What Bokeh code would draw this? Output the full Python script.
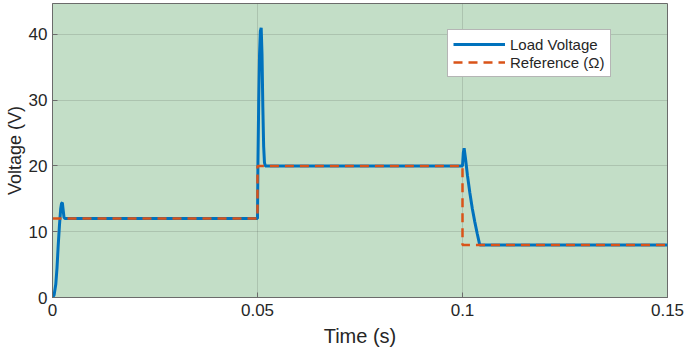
from bokeh.plotting import figure
from bokeh.models import Range1d, Legend, LegendItem, FixedTicker
from bokeh.embed import file_html
from bokeh.resources import INLINE

# Load voltage (s, V)
load_t = [0.0, 0.0004, 0.0008, 0.0011, 0.0014, 0.0017, 0.0020, 0.0022, 0.0024, 0.0026,
          0.0028, 0.0030, 0.0500, 0.0501, 0.0503, 0.0505, 0.0507, 0.0509, 0.0511,
          0.0513, 0.0515, 0.0517, 0.0519, 0.1000, 0.1002, 0.1004, 0.1007, 0.1012,
          0.1018, 0.1024, 0.1030, 0.1036, 0.1042, 0.1500]
load_v = [0.0, 0.4, 2.0, 4.5, 8.0, 11.0, 13.5, 14.3, 14.4, 13.3,
          12.2, 12.0, 12.0, 20.0, 30.0, 37.0, 40.5, 41.0, 37.0,
          29.0, 23.0, 20.5, 20.0, 20.0, 22.0, 22.7, 21.3, 18.6,
          15.9, 13.5, 11.5, 9.7, 8.0, 8.0]

# Reference voltage (s, V)
ref_t = [0.0, 0.0500, 0.0500, 0.1000, 0.1000, 0.1500]
ref_v = [12.0, 12.0, 20.0, 20.0, 8.0, 8.0]

x_ticks = [0, 0.05, 0.1, 0.15]
x_labels = {0: "0", 0.05: "0.05", 0.1: "0.1", 0.15: "0.15"}
y_ticks = [0, 10, 20, 30, 40]

FONT = "Liberation Sans"
TXT = "#262626"

p = figure(width=684, height=351, output_backend="svg", toolbar_location=None,
           x_range=Range1d(0, 0.15), y_range=Range1d(0, 44.7),
           min_border_left=52, min_border_right=17, min_border_top=3, min_border_bottom=54)

p.background_fill_color = "#c3dec7"
p.border_fill_color = "white"
p.outline_line_color = "#6b6b6b"
p.outline_line_width = 1

l1 = p.line(load_t, load_v, line_color="#0072BD", line_width=3)
l2 = p.line(ref_t, ref_v, line_color="#D95319", line_width=2.5, line_dash="9 6")

for ax in (p.xaxis[0], p.yaxis[0]):
    ax.axis_line_color = "#6b6b6b"
    ax.major_tick_line_color = "#6b6b6b"
    ax.major_tick_in = 5
    ax.major_tick_out = 0
    ax.minor_tick_line_color = None
    ax.major_label_text_font = FONT
    ax.major_label_text_font_size = "17px"
    ax.major_label_text_color = TXT
    ax.axis_label_text_font = FONT
    ax.axis_label_text_font_style = "normal"
    ax.axis_label_text_color = TXT

p.xaxis.ticker = FixedTicker(ticks=x_ticks)
p.xaxis.major_label_overrides = x_labels
p.yaxis.ticker = FixedTicker(ticks=y_ticks)
p.xaxis.axis_label = "Time (s)"
p.yaxis.axis_label = "Voltage (V)"
p.xaxis.axis_label_text_font_size = "20px"
p.yaxis.axis_label_text_font_size = "18px"
p.xaxis.major_label_standoff = 6
p.xaxis.axis_label_standoff = 6
p.yaxis.major_label_standoff = 5
p.yaxis.axis_label_standoff = 1

p.grid.grid_line_color = "#262626"
p.grid.grid_line_alpha = 0.15

legend = Legend(items=[LegendItem(label="Load Voltage", renderers=[l1]),
                       LegendItem(label="Reference (\u03a9)", renderers=[l2])],
                location=(395, 220))
legend.label_text_font = FONT
legend.label_text_font_size = "15px"
legend.label_text_color = TXT
legend.border_line_color = "#6b6b6b"
legend.background_fill_color = "white"
legend.background_fill_alpha = 1
legend.glyph_width = 52
legend.glyph_height = 18
legend.label_height = 18
legend.spacing = 0
legend.padding = 5
legend.margin = 0
legend.label_standoff = 5
p.add_layout(legend, "center")

open("out.html", "w").write(file_html(p, INLINE))
